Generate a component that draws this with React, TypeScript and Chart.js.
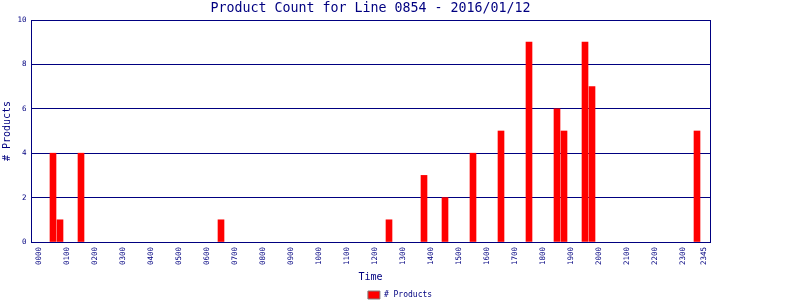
import { useEffect, useRef } from "react";
import { Chart, registerables } from "chart.js";

Chart.register(...registerables);

const chartTitle = "Product Count for Line 0854 - 2016/01/12";
const seriesName = "# Products";
const xTitle = "Time";
const yTitle = "# Products";

// x tick labels shown on the axis (15-minute slots, labelled hourly + last slot)
const tickLabels = [
  "0000", "0100", "0200", "0300", "0400", "0500", "0600", "0700",
  "0800", "0900", "1000", "1100", "1200", "1300", "1400", "1500",
  "1600", "1700", "1800", "1900", "2000", "2100", "2200", "2300", "2345",
];

// time slots with a non-zero count
const barTimes = [
  "0030", "0045", "0130", "0630", "1230", "1345", "1430", "1530",
  "1630", "1730", "1830", "1845", "1930", "1945", "2330",
];
const barCounts = [4, 1, 4, 1, 1, 3, 2, 4, 5, 9, 6, 5, 9, 7, 5];

const yMin = 0;
const yMax = 10;
const yStep = 2;

const NAVY = "#000080";
const RED = "#ff0000";
const FONT = "'DejaVu Sans Mono', 'Liberation Mono', monospace";

const slotOf = (t: string) =>
  parseInt(t.slice(0, 2), 10) * 4 + parseInt(t.slice(2), 10) / 15;

const labelBySlot: Record<number, string> = {};
tickLabels.forEach((l) => {
  labelBySlot[slotOf(l)] = l;
});

export default function App() {
  const ref = useRef<HTMLCanvasElement | null>(null);

  useEffect(() => {
    document.body.style.margin = "0";
    const canvas = ref.current;
    if (!canvas) return;

    const chart = new Chart(canvas, {
      type: "bar",
      data: {
        datasets: [
          {
            label: seriesName,
            data: barTimes.map((t, i) => ({ x: slotOf(t), y: barCounts[i] })),
            backgroundColor: RED,
            borderWidth: 0,
            barThickness: 6,
            xAxisID: "x",
            yAxisID: "y",
          },
        ],
      },
      options: {
        animation: false,
        responsive: false,
        maintainAspectRatio: false,
        layout: { padding: { top: 0, left: 0, right: 0, bottom: -9 } },
        plugins: {
          title: {
            display: true,
            text: chartTitle,
            color: NAVY,
            fullSize: false,
            font: { family: FONT, size: 13.3, weight: "normal", lineHeight: 1 },
            padding: { top: 1.5, bottom: 5.2 },
          },
          legend: {
            display: true,
            position: "bottom",
            labels: {
              boxWidth: 12,
              boxHeight: 8,
              padding: 6,
              color: NAVY,
              font: { family: FONT, size: 8 },
              generateLabels: (c: any) =>
                (Chart.defaults.plugins.legend.labels as any)
                  .generateLabels(c)
                  .map((l: any) => ({ ...l, strokeStyle: "#808080", lineWidth: 1 })),
            },
          },
          tooltip: { enabled: false },
        },
        scales: {
          x: {
            type: "linear",
            offset: false,
            min: -8 / 7,
            max: 95 + 6 / 7,
            afterBuildTicks: (s: any) => {
              s.ticks = tickLabels.map((l) => ({ value: slotOf(l) }));
            },
            ticks: {
              autoSkip: false,
              minRotation: 90,
              maxRotation: 90,
              padding: 5,
              color: NAVY,
              font: { family: FONT, size: 7.5 },
              callback: (v: any) => labelBySlot[v] ?? "",
            },
            grid: { display: false, drawTicks: false, offset: false },
            border: { display: true, color: NAVY, width: 1 },
            title: {
              display: true,
              text: xTitle,
              color: NAVY,
              font: { family: FONT, size: 10, lineHeight: 1 },
              padding: { top: 0, bottom: 2.5 },
            },
            afterFit: (s: any) => {
              s.height = 43;
            },
          },
          y: {
            type: "linear",
            position: "left",
            min: yMin,
            max: yMax,
            ticks: {
              stepSize: yStep,
              padding: 4.5,
              color: NAVY,
              font: { family: FONT, size: 7.5 },
            },
            grid: { color: NAVY, lineWidth: 1, drawTicks: false },
            border: { display: true, color: NAVY, width: 1 },
            title: {
              display: true,
              text: yTitle,
              color: NAVY,
              font: { family: FONT, size: 10, lineHeight: 1 },
              padding: { top: 2.5, bottom: 0 },
            },
            afterFit: (s: any) => {
              s.width = 31;
            },
          },
          y2: {
            type: "linear",
            position: "right",
            display: true,
            ticks: { display: false },
            grid: { display: false, drawTicks: false },
            border: { display: true, color: NAVY, width: 1 },
            afterFit: (s: any) => {
              s.width = 90;
            },
          },
        },
      } as any,
    });

    return () => {
      chart.destroy();
    };
  }, []);

  return (
    <canvas
      ref={ref}
      width={800}
      height={300}
      style={{ display: "block", width: "800px", height: "300px" }}
    />
  );
}
